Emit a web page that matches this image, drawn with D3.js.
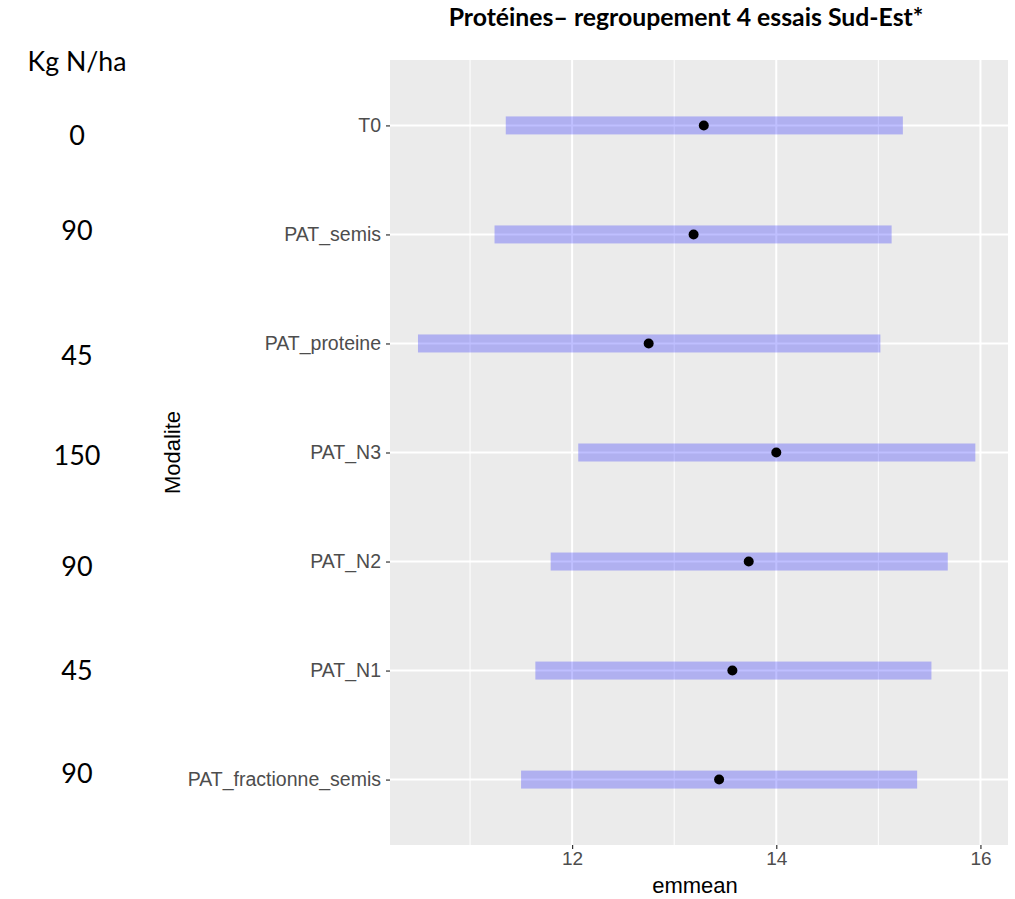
<!DOCTYPE html>
<html><head><meta charset="utf-8">
<script src="https://cdn.jsdelivr.net/npm/d3@7"></script>
<style>body{margin:0;background:#fff}</style>
</head><body>
<script>
const categories = ["T0","PAT_semis","PAT_proteine","PAT_N3","PAT_N2","PAT_N1","PAT_fractionne_semis"];
const emmean = [13.29, 13.19, 12.75, 14.00, 13.73, 13.57, 13.44];
const lowerCL = [11.35, 11.24, 10.49, 12.06, 11.79, 11.64, 11.50];
const upperCL = [15.24, 15.13, 15.02, 15.95, 15.68, 15.52, 15.38];
const doses = ["0","90","45","150","90","45","90"];
const xTicks = [12, 14, 16];
const xMinor = [11, 13, 15];

const W = 1015, H = 899;
const svg = d3.select("body").append("svg").attr("width", W).attr("height", H);
const P = {left: 390, right: 1008, top: 60, bottom: 845};

const x = d3.scaleLinear().domain([10.216, 16.27]).range([P.left, P.right]);
const y = d3.scalePoint().domain(categories).range([P.top, P.bottom]).padding(0.6);

svg.append("rect").attr("x", P.left).attr("y", P.top).attr("width", P.right - P.left).attr("height", P.bottom - P.top).attr("fill", "#EBEBEB");

const g = svg.append("g");
g.selectAll(".minor").data(xMinor).join("line")
  .attr("x1", d => x(d)).attr("x2", d => x(d)).attr("y1", P.top).attr("y2", P.bottom)
  .attr("stroke", "#fff").attr("stroke-width", 1);
g.selectAll(".major").data(xTicks).join("line")
  .attr("x1", d => x(d)).attr("x2", d => x(d)).attr("y1", P.top).attr("y2", P.bottom)
  .attr("stroke", "#fff").attr("stroke-width", 2);
g.selectAll(".hgrid").data(categories).join("line")
  .attr("x1", P.left).attr("x2", P.right).attr("y1", d => y(d)).attr("y2", d => y(d))
  .attr("stroke", "#fff").attr("stroke-width", 2);

const bh = 18;
g.selectAll(".band").data(categories).join("rect")
  .attr("x", (d, i) => x(lowerCL[i])).attr("width", (d, i) => x(upperCL[i]) - x(lowerCL[i]))
  .attr("y", d => y(d) - bh / 2).attr("height", bh)
  .attr("fill", "blue").attr("fill-opacity", 0.25);

g.selectAll(".pt").data(categories).join("circle")
  .attr("cx", (d, i) => x(emmean[i])).attr("cy", d => y(d)).attr("r", 5).attr("fill", "#000");

// axes
const xAxis = svg.append("g").attr("transform", `translate(0,${P.bottom})`)
  .call(d3.axisBottom(x).tickValues(xTicks).tickFormat(d3.format("d")).tickSize(4).tickPadding(3));
xAxis.select(".domain").remove();
xAxis.selectAll("line").attr("stroke", "#333").attr("stroke-width", 1.2);
xAxis.selectAll("text").attr("fill", "#4D4D4D").style("font-family", "Liberation Sans, Arial").style("font-size", "19px");

const yAxis = svg.append("g").attr("transform", `translate(${P.left},0)`)
  .call(d3.axisLeft(y).tickSize(4).tickPadding(5));
yAxis.select(".domain").remove();
yAxis.selectAll("line").attr("stroke", "#333").attr("stroke-width", 1.2);
yAxis.selectAll("text").attr("fill", "#4D4D4D").style("font-family", "Liberation Sans, Arial").style("font-size", "19.5px");

svg.append("text").attr("x", 695).attr("y", 893).attr("text-anchor", "middle")
  .style("font-family", "Liberation Sans, Arial").style("font-size", "22px").attr("fill", "#000").text("emmean");
svg.append("text").attr("transform", `translate(180,${(P.top + P.bottom) / 2}) rotate(-90)`).attr("text-anchor", "middle")
  .style("font-family", "Liberation Sans, Arial").style("font-size", "22px").attr("fill", "#000").text("Modalite");

function fit(sel, target) {
  const len = sel.node().getComputedTextLength();
  const fs = parseFloat(sel.style("font-size"));
  const nfs = fs * target / len;
  sel.style("font-size", nfs + "px");
  return nfs;
}

const title = svg.append("text").attr("x", 686).attr("y", 26).attr("text-anchor", "middle")
  .style("font-family", "Lato, Open Sans, sans-serif").style("font-weight", "bold").style("font-size", "20px")
  .attr("fill", "#000").text("Protéines– regroupement 4 essais Sud-Est*");
fit(title, 475);

const kg = svg.append("text").attr("x", 77).attr("y", 71).attr("text-anchor", "middle")
  .style("font-family", "Lato, Open Sans, sans-serif").style("font-size", "20px").attr("fill", "#000").text("Kg N/ha");
fit(kg, 99);

const doseY = [135, 230, 355, 455, 566, 670, 773];
const dl = svg.selectAll(".dose").data(doses).join("text")
  .attr("x", 77).attr("y", (d, i) => doseY[i]).attr("dy", "0.36em").attr("text-anchor", "middle")
  .style("font-family", "Lato, Open Sans, sans-serif").style("font-size", "22px").attr("fill", "#000").text(d => d);
const dfs = fit(dl.filter(d => d === "150"), 47);
dl.style("font-size", dfs + "px");
</script>
</body></html>
